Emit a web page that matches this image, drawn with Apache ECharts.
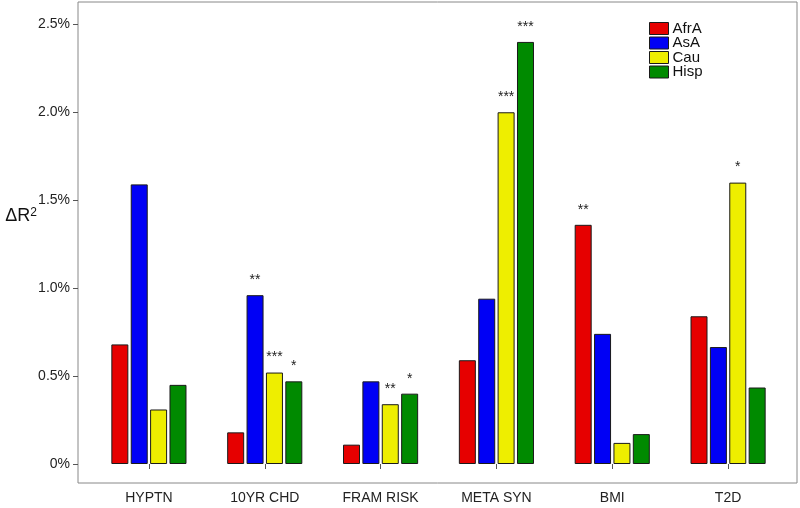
<!DOCTYPE html>
<html>
<head>
<meta charset="utf-8">
<script src="https://cdn.jsdelivr.net/npm/echarts@6/dist/echarts.min.js"></script>
<style>
  html, body { margin: 0; padding: 0; background: #fff; }
  #chart { width: 800px; height: 508px; }
</style>
</head>
<body>
<div id="chart"></div>
<script>
// data (values in %)
var categories = ['HYPTN', '10YR CHD', 'FRAM RISK', 'META SYN', 'BMI', 'T2D'];
var groups = ['AfrA', 'AsA', 'Cau', 'Hisp'];
var afrA = [0.68, 0.18, 0.11, 0.59, 1.36, 0.84];
var asA  = [1.59, 0.96, 0.47, 0.94, 0.74, 0.665];
var cau  = [0.31, 0.52, 0.34, 2.00, 0.12, 1.60];
var hisp = [0.45, 0.47, 0.40, 2.40, 0.17, 0.435];
// significance marks
var afrAStars = ['', '', '', '', '**', ''];
var asAStars  = ['', '**', '', '', '', ''];
var cauStars  = ['', '***', '**', '***', '', '*'];
var hispStars = ['', '*', '*', '***', '', ''];
var yTicks = [0, 0.5, 1.0, 1.5, 2.0, 2.5];

var colors = ['#e60000', '#0000f5', '#eeee00', '#008a00'];
var values = [afrA, asA, cau, hisp];
var stars = [afrAStars, asAStars, cauStars, hispStars];

var chart = echarts.init(document.getElementById('chart'));
var font = 'Liberation Sans, Arial, sans-serif';

var series = groups.map(function (name, i) {
  return {
    type: 'bar',
    name: name,
    data: values[i],
    barWidth: 17,
    barGap: '14%',
    itemStyle: {
      color: colors[i],
      borderColor: '#1a1a1a',
      borderWidth: 1
    },
    label: {
      show: true,
      position: 'top',
      distance: 8,
      fontSize: 14,
      color: '#222',
      fontFamily: font,
      formatter: function (p) {
        return stars[i][p.dataIndex];
      }
    },
    emphasis: { disabled: true },
    animation: false
  };
});

chart.setOption({
  animation: false,
  textStyle: { fontFamily: font },
  grid: [{
    left: 91,
    right: 14,
    top: 2,
    bottom: 25,
    outerBoundsMode: 'none',
    containLabel: false,
    show: false
  }, {
    // outer plot box
    left: 78,
    right: 3,
    top: 2,
    bottom: 25,
    outerBoundsMode: 'none',
    show: true,
    borderColor: '#888',
    borderWidth: 1,
    backgroundColor: 'transparent'
  }],
  legend: {
    orient: 'vertical',
    left: 649,
    top: 21,
    padding: 0,
    itemWidth: 19,
    itemHeight: 12,
    itemGap: -0.5,
    icon: 'rect',
    data: groups,
    itemStyle: { borderColor: '#1a1a1a', borderWidth: 1 },
    textStyle: { fontSize: 15, color: '#111', fontFamily: font, padding: [0, 0, 0, -1] }
  },
  xAxis: [{
    type: 'category',
    gridIndex: 0,
    data: categories,
    axisLine: { show: false },
    axisTick: { show: true, alignWithLabel: true, length: 5, lineStyle: { color: '#555' } },
    axisLabel: { color: '#222', fontSize: 14, margin: 8 },
    splitLine: { show: false }
  }, {
    type: 'value', gridIndex: 1, show: false
  }],
  yAxis: [{
    type: 'value',
    gridIndex: 0,
    min: -0.108,
    max: 2.627,
    offset: 13,
    name: 'ΔR{sup|2}',
    nameLocation: 'middle',
    nameRotate: 0,
    nameGap: 41,
    nameMoveOverlap: false,
    nameTextStyle: {
      fontSize: 18,
      color: '#111',
      padding: [0, 0, 52, 0],
      rich: { sup: { fontSize: 12, verticalAlign: 'top', padding: [0, 0, 8, 0], color: '#111' } }
    },
    axisLine: { show: false },
    axisTick: { show: true, length: 5, customValues: yTicks, lineStyle: { color: '#555' } },
    axisLabel: {
      color: '#222',
      fontSize: 14,
      margin: 8,
      customValues: yTicks,
      formatter: function (v) {
        return v === 0 ? '0%' : v.toFixed(1) + '%';
      }
    },
    splitLine: { show: false }
  }, {
    type: 'value', gridIndex: 1, show: false
  }],
  series: series
});
</script>
</body>
</html>
